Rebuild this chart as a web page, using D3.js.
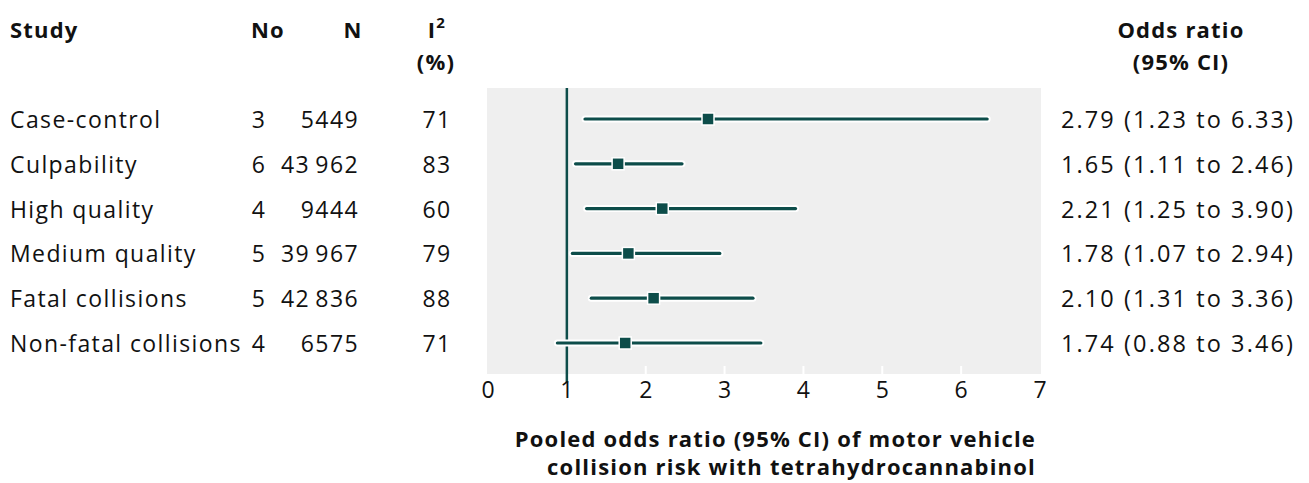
<!DOCTYPE html>
<html>
<head>
<meta charset="utf-8">
<script src="https://cdn.jsdelivr.net/npm/d3@7"></script>
<style>
  body { margin: 0; background: #fff; }
  svg text { font-family: "Open Sans", "Noto Sans", sans-serif; fill: #111; }
  .hdr { font-weight: 700; font-size: 22px; letter-spacing: 1.2px; }
  .cell { font-size: 23px; letter-spacing: 1.4px; }
  .or-text { font-size: 23.5px; letter-spacing: 2.1px; }
  .tick-label { font-size: 23px; }
  .axis-title { font-weight: 700; font-size: 22px; letter-spacing: 1.2px; }
</style>
</head>
<body>
<div id="chart"></div>
<script>
var studies = ["Case-control", "Culpability", "High quality", "Medium quality", "Fatal collisions", "Non-fatal collisions"];
var nStudies = [3, 6, 4, 5, 5, 4];
var nParticipants = [5449, 43962, 9444, 39967, 42836, 6575];
var i2 = [71, 83, 60, 79, 88, 71];
var oddsRatio = [2.79, 1.65, 2.21, 1.78, 2.10, 1.74];
var ciLower = [1.23, 1.11, 1.25, 1.07, 1.31, 0.88];
var ciUpper = [6.33, 2.46, 3.90, 2.94, 3.36, 3.46];
var xTicks = [0, 1, 2, 3, 4, 5, 6, 7];

var dark = "#0d4d4a";
var width = 1309, height = 483;

var svg = d3.select("#chart").append("svg")
    .attr("width", width)
    .attr("height", height);

// plot panel
var panel = { left: 487, right: 1041, top: 88, bottom: 374 };

var x = d3.scaleLinear().domain([0, 7]).range([panel.left + 1, panel.right - 1]);
var y = d3.scalePoint().domain(studies).range([119, 343]);

var rows = studies.map(function(s, i) {
    return { study: s, no: nStudies[i], n: nParticipants[i], i2: i2[i],
             or: oddsRatio[i], lo: ciLower[i], hi: ciUpper[i] };
});

function fmtN(v) {
    // BMJ style: thin space only for 5+ digit numbers
    return v >= 10000 ? d3.format(",")(v).replace(/,/g, "\u2009") : String(v);
}

svg.append("rect")
    .attr("x", panel.left)
    .attr("y", panel.top)
    .attr("width", panel.right - panel.left)
    .attr("height", panel.bottom - panel.top)
    .attr("fill", "#efefef");

// white tick marks inside the bottom of the panel
svg.selectAll(".wtick")
    .data(xTicks.filter(function(d) { return d > 1 && d < 7; }))
    .enter().append("line")
    .attr("x1", function(d) { return x(d); })
    .attr("x2", function(d) { return x(d); })
    .attr("y1", panel.bottom - 8)
    .attr("y2", panel.bottom)
    .attr("stroke", "#fff")
    .attr("stroke-width", 2);

// reference line at OR = 1
svg.append("line")
    .attr("x1", x(1)).attr("x2", x(1))
    .attr("y1", panel.top).attr("y2", panel.bottom + 9)
    .attr("stroke", dark)
    .attr("stroke-width", 2.5);

// CI lines with white halo
var ci = svg.selectAll(".ci").data(rows).enter().append("g").attr("class", "ci");

ci.append("line")
    .attr("x1", function(d) { return x(d.lo); })
    .attr("x2", function(d) { return x(d.hi); })
    .attr("y1", function(d) { return y(d.study); })
    .attr("y2", function(d) { return y(d.study); })
    .attr("stroke", "#fff")
    .attr("stroke-width", 7)
    .attr("stroke-linecap", "round");

ci.append("line")
    .attr("x1", function(d) { return x(d.lo); })
    .attr("x2", function(d) { return x(d.hi); })
    .attr("y1", function(d) { return y(d.study); })
    .attr("y2", function(d) { return y(d.study); })
    .attr("stroke", dark)
    .attr("stroke-width", 3.2)
    .attr("stroke-linecap", "round");

var sq = 12;
ci.append("rect")
    .attr("x", function(d) { return x(d.or) - sq / 2; })
    .attr("y", function(d) { return y(d.study) - sq / 2; })
    .attr("width", sq)
    .attr("height", sq)
    .attr("fill", dark)
    .attr("stroke", "#fff")
    .attr("stroke-width", 1.5);

// x axis tick labels
svg.selectAll(".tick-label")
    .data(xTicks)
    .enter().append("text")
    .attr("class", "tick-label")
    .attr("x", function(d) { return x(d); })
    .attr("y", 398)
    .attr("text-anchor", "middle")
    .text(function(d) { return d; });

// axis title
var title = svg.append("text")
    .attr("class", "axis-title")
    .attr("text-anchor", "end");
title.append("tspan").attr("x", 1036).attr("y", 447).text("Pooled odds ratio (95% CI) of motor vehicle");
title.append("tspan").attr("x", 1036).attr("y", 475).text("collision risk with tetrahydrocannabinol");

// headers
svg.append("text").attr("class", "hdr").attr("x", 10).attr("y", 38).text("Study");
svg.append("text").attr("class", "hdr").attr("x", 268).attr("y", 38).attr("text-anchor", "middle").text("No");
svg.append("text").attr("class", "hdr").attr("x", 353).attr("y", 38).attr("text-anchor", "middle").text("N");
var i2h = svg.append("text").attr("class", "hdr").attr("x", 437).attr("y", 38).attr("text-anchor", "middle");
i2h.append("tspan").text("I");
i2h.append("tspan").attr("dy", -10).style("font-size", "15px").text("2");
svg.append("text").attr("class", "hdr").attr("x", 436).attr("y", 70).attr("text-anchor", "middle").text("(%)");
svg.append("text").attr("class", "hdr").attr("x", 1181).attr("y", 38).attr("text-anchor", "middle").text("Odds ratio");
svg.append("text").attr("class", "hdr").attr("x", 1181).attr("y", 70).attr("text-anchor", "middle").text("(95% CI)");

// table rows
var row = svg.selectAll(".row").data(rows).enter().append("g")
    .attr("class", "row")
    .attr("transform", function(d) { return "translate(0," + (y(d.study) + 9) + ")"; });

row.append("text").attr("class", "cell").attr("x", 10).text(function(d) { return d.study; });
row.append("text").attr("class", "cell").attr("x", 259).attr("text-anchor", "middle").text(function(d) { return d.no; });
row.append("text").attr("class", "cell").attr("x", 359).attr("text-anchor", "end").text(function(d) { return fmtN(d.n); });
row.append("text").attr("class", "cell").attr("x", 437).attr("text-anchor", "middle").text(function(d) { return d.i2; });
row.append("text").attr("class", "or-text").attr("x", 1061)
    .text(function(d) { return d3.format(".2f")(d.or) + " (" + d3.format(".2f")(d.lo) + " to " + d3.format(".2f")(d.hi) + ")"; });
</script>
</body>
</html>
